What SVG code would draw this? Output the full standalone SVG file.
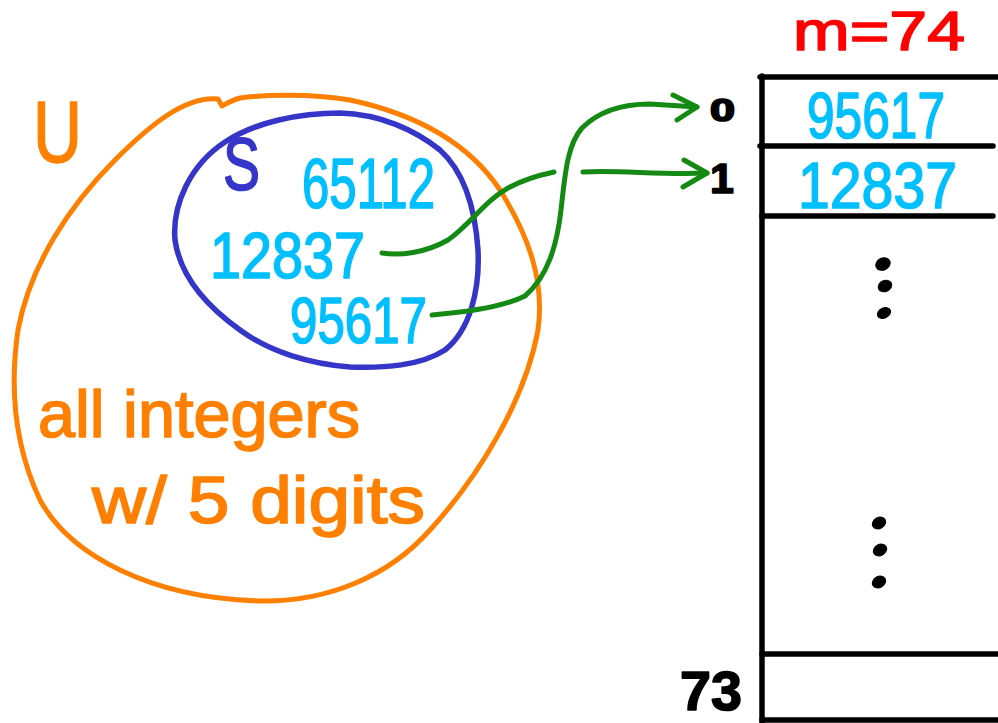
<svg xmlns="http://www.w3.org/2000/svg" width="998" height="723" viewBox="0 0 998 723">
  <style>
    text { font-family: "Liberation Sans", "DejaVu Sans", sans-serif; stroke-width: 1.6; stroke-linejoin: round; }
    .set-u { fill: none; stroke: #FF8000; stroke-width: 5; stroke-linecap: round; stroke-linejoin: round; }
    .set-s { fill: none; stroke: #3535C8; stroke-width: 5.5; stroke-linecap: round; stroke-linejoin: round; }
    .link { fill: none; stroke: #148A14; stroke-width: 5; stroke-linecap: round; stroke-linejoin: round; }
    .grid { fill: none; stroke: #000; stroke-width: 5.5; stroke-linecap: round; }
    .orange { fill: #FF8000; stroke: #FF8000; }
    .blue { fill: #3535C8; stroke: #3535C8; }
    .cyan { fill: #00BFFF; stroke: #00BFFF; }
    .black { fill: #000; stroke: #000; }
    .red { fill: #FF0000; stroke: #FF0000; }
  </style>

  <!-- universe U -->
  <g id="universe">
    <path class="set-u" d="M218,99 C185,96 150,125 115,160 C70,205 30,265 18,330 C10,385 14,445 40,500 C70,555 150,598 260,601 C330,602 390,575 430,530 C480,475 525,400 538,330 C545,280 528,235 500,190 C470,145 420,115 350,100 C310,93 260,95 240,98 C232,100 226,104 222,106 Z"/>
    <text class="orange" x="33" y="162" font-size="88" textLength="49" lengthAdjust="spacingAndGlyphs">U</text>
    <text class="orange" x="38" y="437" font-size="66" textLength="322" lengthAdjust="spacingAndGlyphs">all integers</text>
    <text class="orange" x="92" y="523" font-size="66" textLength="333" lengthAdjust="spacingAndGlyphs">w/ 5 digits</text>
  </g>

  <!-- subset S -->
  <g id="subset">
    <path class="set-s" d="M175,240 C172,205 190,165 225,142 C255,122 300,113 340,113 C380,114 415,130 440,150 C462,170 475,205 478,250 C480,290 470,330 445,350 C420,366 385,368 350,367 C310,364 270,352 240,330 C205,305 180,275 175,240 Z"/>
    <text class="blue" x="223" y="190" font-size="74" textLength="37" lengthAdjust="spacingAndGlyphs">S</text>
    <text class="cyan" x="302" y="208" font-size="70" textLength="133" lengthAdjust="spacingAndGlyphs">65112</text>
    <text class="cyan" x="210" y="278" font-size="65" textLength="155" lengthAdjust="spacingAndGlyphs">12837</text>
    <text class="cyan" x="290" y="343" font-size="64" textLength="137" lengthAdjust="spacingAndGlyphs">95617</text>
  </g>

  <!-- hash table with m = 74 slots -->
  <g id="table">
    <text class="red" x="793" y="50" font-size="56" textLength="172" lengthAdjust="spacingAndGlyphs">m=74</text>
    <line class="grid" x1="762" y1="76" x2="762" y2="723"/>
    <line class="grid" x1="760" y1="77" x2="998" y2="77"/>
    <line class="grid" x1="760" y1="146" x2="993" y2="146"/>
    <line class="grid" x1="762" y1="216" x2="993" y2="216"/>
    <line class="grid" x1="762" y1="654" x2="998" y2="654"/>
    <line class="grid" x1="762" y1="720" x2="998" y2="720"/>
    <text class="black" x="710" y="121" font-size="29" font-weight="bold" textLength="25" lengthAdjust="spacingAndGlyphs" transform="translate(0 -10) scale(1 1.08) translate(0 0)">0</text>
    <text class="black" x="722" y="193" font-size="43" font-weight="bold" text-anchor="middle">1</text>
    <text class="black" x="680" y="710" font-size="56" font-weight="bold" textLength="62" lengthAdjust="spacingAndGlyphs">73</text>
    <text class="cyan" x="807" y="138" font-size="64" textLength="138" lengthAdjust="spacingAndGlyphs">95617</text>
    <text class="cyan" x="798" y="208" font-size="64" textLength="159" lengthAdjust="spacingAndGlyphs">12837</text>
    <g class="black">
      <ellipse cx="883" cy="264" rx="7.5" ry="6" transform="rotate(-25 883 264)"/>
      <ellipse cx="885" cy="286" rx="7" ry="5.5" transform="rotate(-25 885 286)"/>
      <ellipse cx="884" cy="313" rx="7" ry="5" transform="rotate(-25 884 313)"/>
      <ellipse cx="879" cy="523" rx="7" ry="5.5" transform="rotate(-30 879 523)"/>
      <ellipse cx="880" cy="550" rx="7" ry="5.5" transform="rotate(-30 880 550)"/>
      <ellipse cx="879" cy="582" rx="7" ry="5.5" transform="rotate(-30 879 582)"/>
    </g>
  </g>

  <!-- hash links from keys to slots -->
  <g id="connectors">
    <path class="link" d="M382,253 C400,256 425,253 448,240 C470,225 485,200 510,187 C525,179 540,175 554,172"/>
    <path class="link" d="M583,172 C620,170 660,175 707,173"/>
    <path class="link" d="M684,160 L707,173 L683,187"/>
    <path class="link" d="M432,315 C470,312 505,306 525,296 C548,276 557,245 561,210 C565,175 567,145 582,128 C598,112 620,104 650,104 L697,107"/>
    <path class="link" d="M673,95 L697,107 L677,120"/>
  </g>
</svg>
